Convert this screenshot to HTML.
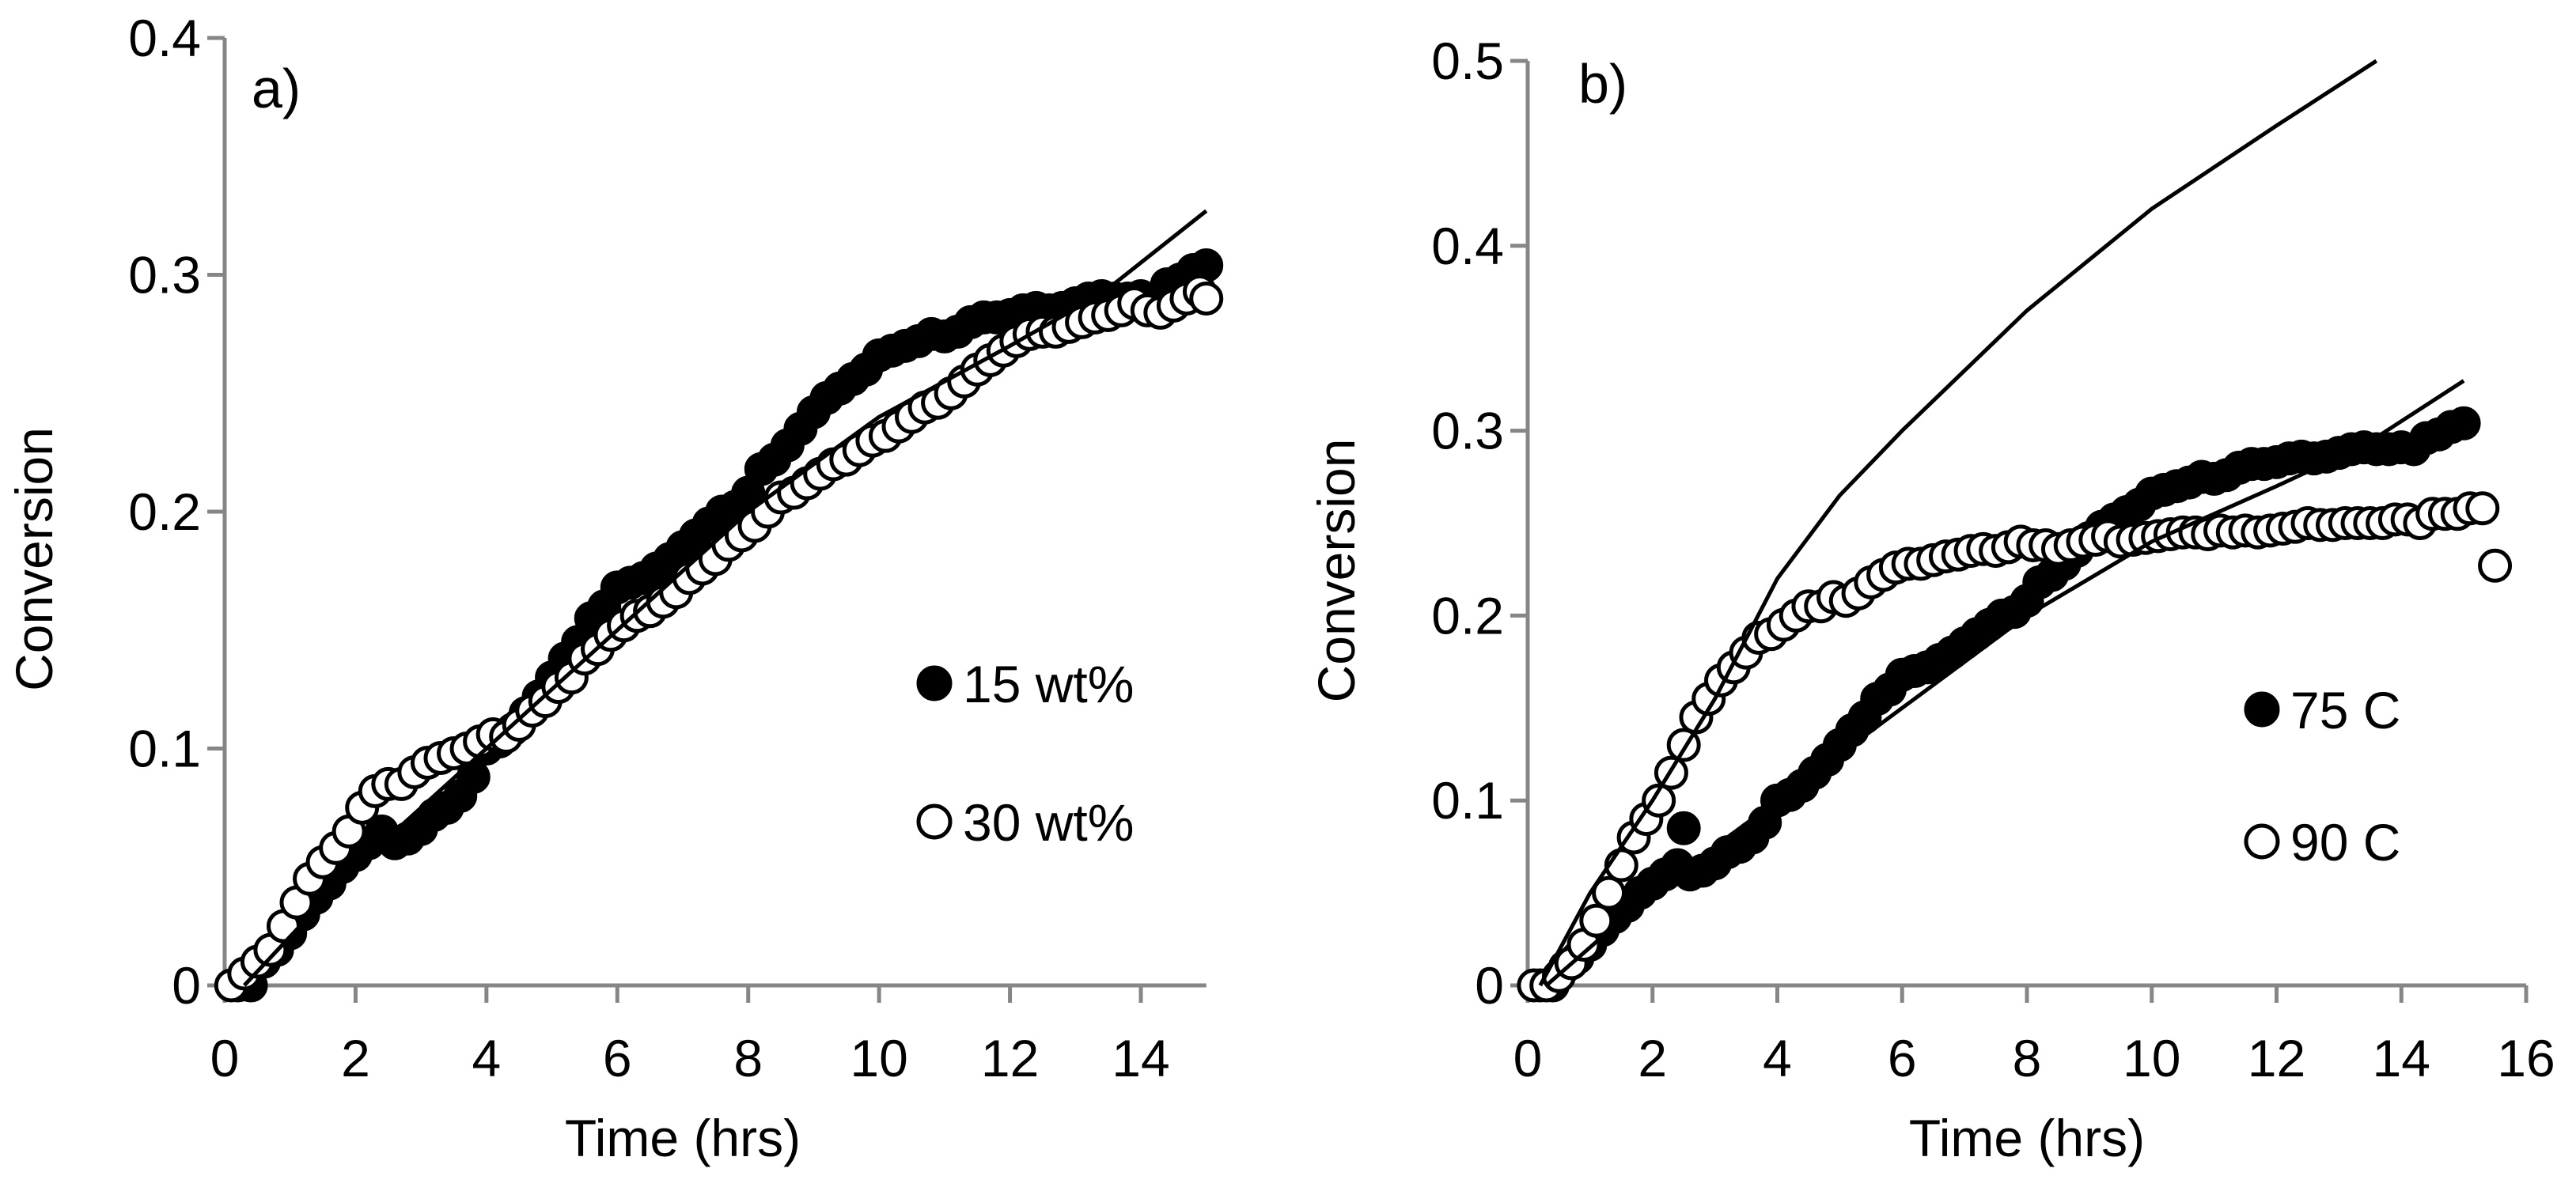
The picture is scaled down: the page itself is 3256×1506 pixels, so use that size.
<!DOCTYPE html>
<html><head><meta charset="utf-8"><style>
html,body{margin:0;padding:0;background:#fff;}
svg{display:block;font-family:"Liberation Sans",sans-serif;}
</style></head><body>
<svg id="chart" width="3256" height="1506" viewBox="0 0 3256 1506" xmlns="http://www.w3.org/2000/svg"></svg>
<script>
// ---- data ----
const t15 = [0.2,0.4,0.6,0.8,1.0,1.2,1.4,1.6,1.8,2.0,2.2,2.4,2.6,2.8,3.0,3.2,3.4,3.6,3.8,4.0,4.2,4.4,4.6,4.8,5.0,5.2,5.4,5.6,5.8,6.0,6.2,6.4,6.6,6.8,7.0,7.2,7.4,7.6,7.8,8.0,8.2,8.4,8.6,8.8,9.0,9.2,9.4,9.6,9.8,10.0,10.2,10.4,10.6,10.8,11.0,11.2,11.4,11.6,11.8,12.0,12.2,12.4,12.6,12.8,13.0,13.2,13.4,13.6,13.8,14.0,14.2,14.4,14.6,14.8,15.0];
const c15 = [0,0,0.01,0.015,0.022,0.03,0.037,0.043,0.05,0.055,0.06,0.065,0.06,0.062,0.066,0.072,0.075,0.08,0.088,0.1,0.103,0.108,0.115,0.122,0.13,0.138,0.145,0.155,0.16,0.168,0.17,0.172,0.176,0.18,0.185,0.19,0.195,0.2,0.202,0.208,0.218,0.222,0.228,0.235,0.242,0.248,0.252,0.256,0.26,0.266,0.268,0.27,0.272,0.275,0.274,0.276,0.28,0.282,0.282,0.283,0.285,0.286,0.285,0.286,0.288,0.29,0.291,0.29,0.29,0.291,0.29,0.296,0.298,0.302,0.304];
const t30 = [0.1,0.3,0.5,0.7,0.9,1.1,1.3,1.5,1.7,1.9,2.1,2.3,2.5,2.7,2.9,3.1,3.3,3.5,3.7,3.9,4.1,4.3,4.5,4.7,4.9,5.1,5.3,5.5,5.7,5.9,6.1,6.3,6.5,6.7,6.9,7.1,7.3,7.5,7.7,7.9,8.1,8.3,8.5,8.7,8.9,9.1,9.3,9.5,9.7,9.9,10.1,10.3,10.5,10.7,10.9,11.1,11.3,11.5,11.7,11.9,12.1,12.3,12.5,12.7,12.9,13.1,13.3,13.5,13.7,13.9,14.1,14.3,14.5,14.7,14.9,15.0];
const c30 = [0,0.005,0.01,0.015,0.025,0.035,0.045,0.052,0.058,0.065,0.075,0.082,0.085,0.085,0.09,0.094,0.096,0.098,0.1,0.103,0.106,0.105,0.11,0.116,0.12,0.126,0.13,0.138,0.142,0.148,0.152,0.156,0.158,0.162,0.166,0.172,0.176,0.18,0.186,0.19,0.194,0.2,0.206,0.208,0.212,0.216,0.22,0.222,0.226,0.23,0.232,0.236,0.24,0.244,0.246,0.25,0.255,0.26,0.264,0.268,0.272,0.275,0.276,0.276,0.278,0.28,0.282,0.283,0.285,0.288,0.285,0.284,0.287,0.29,0.293,0.29];
const fitAT = [0.3,2,4,6,8,10,12,13.4,15];
const fitAC = [0,0.05,0.1,0.15,0.2,0.24,0.27,0.292,0.327];
const t75out = [2.5];
const c75out = [0.085];
const t90 = [0.1,0.3,0.5,0.7,0.9,1.1,1.3,1.5,1.7,1.9,2.1,2.3,2.5,2.7,2.9,3.1,3.3,3.5,3.7,3.9,4.1,4.3,4.5,4.7,4.9,5.1,5.3,5.5,5.7,5.9,6.1,6.3,6.5,6.7,6.9,7.1,7.3,7.5,7.7,7.9,8.1,8.3,8.5,8.7,8.9,9.1,9.3,9.5,9.7,9.9,10.1,10.3,10.5,10.7,10.9,11.1,11.3,11.5,11.7,11.9,12.1,12.3,12.5,12.7,12.9,13.1,13.3,13.5,13.7,13.9,14.1,14.3,14.5,14.7,14.9,15.1,15.3,15.5];
const c90 = [0,0,0.005,0.012,0.022,0.035,0.05,0.065,0.08,0.09,0.1,0.115,0.13,0.145,0.155,0.165,0.172,0.18,0.188,0.19,0.195,0.2,0.205,0.205,0.21,0.208,0.212,0.218,0.222,0.226,0.228,0.228,0.23,0.232,0.233,0.235,0.236,0.235,0.237,0.24,0.238,0.238,0.236,0.238,0.24,0.241,0.243,0.24,0.241,0.242,0.243,0.244,0.245,0.245,0.244,0.246,0.245,0.246,0.245,0.246,0.247,0.248,0.25,0.249,0.249,0.25,0.25,0.25,0.25,0.252,0.252,0.25,0.255,0.255,0.255,0.258,0.258,0.227];
const fit90T = [0.2,1,2,3,4,5,6,8,10,12,13.6];
const fit90C = [0,0.05,0.1,0.155,0.22,0.265,0.3,0.365,0.42,0.465,0.5];
const ticksA_Y = [0,0.1,0.2,0.3,0.4];
const ticksA_X = [0,2,4,6,8,10,12,14];
const ticksB_Y = [0,0.1,0.2,0.3,0.4,0.5];
const ticksB_X = [0,2,4,6,8,10,12,14,16];

const NS="http://www.w3.org/2000/svg";
const svg=document.getElementById('chart');
function mk(tag,attrs,parent){const e=document.createElementNS(NS,tag);for(const k in attrs)e.setAttribute(k,attrs[k]);(parent||svg).appendChild(e);return e;}
const FS=66;
function panel(o){
  const g=mk('g',{});
  
  
  const sx=v=>o.x0+v*(o.xw/o.xmax);
  const sy=v=>o.y0-v*(o.yh/o.ymax);
  const ya=mk('line',{x1:o.x0,y1:sy(o.ymax),x2:o.x0,y2:o.y0,stroke:'#868686','stroke-width':5},g);
  
  
  const xa=mk('line',{x1:o.x0,y1:o.y0,x2:sx(o.xend),y2:o.y0,stroke:'#868686','stroke-width':5},g);
  
  
  o.ty.forEach(v=>{
    mk('line',{x1:o.x0-22,y1:sy(v),x2:o.x0,y2:sy(v),stroke:'#868686','stroke-width':5},g);
    const t=mk('text',{x:o.x0-30,y:sy(v)+23,'text-anchor':'end','font-size':FS,fill:'#000'},g);
    t.textContent=String(v);
    
    
  });
  o.tx.forEach(v=>{
    mk('line',{x1:sx(v),y1:o.y0,x2:sx(v),y2:o.y0+22,stroke:'#868686','stroke-width':5},g);
    const t=mk('text',{x:sx(v),y:o.y0+115,'text-anchor':'middle','font-size':FS,fill:'#000'},g);
    t.textContent=String(v);
    
    
  });
  const xt=mk('text',{x:o.x0+o.xw*0.5,y:1462,'text-anchor':'middle','font-size':FS,fill:'#000'},g);
  xt.textContent='Time (hrs)';
  
  
  const ytl=mk('text',{x:0,y:0,'text-anchor':'middle','font-size':FS,fill:'#000',transform:`translate(${o.ytx},${(o.y0+sy(o.ymax))/2+60}) rotate(-90)`},g);
  ytl.textContent='Conversion';
  
  
  const lab=mk('text',{x:o.labX,y:o.labY,'font-size':70,fill:'#000'},g);
  lab.textContent=o.label;
  
  
  o.series.forEach(s=>{
    const sg=mk('g',{},g);
    
    
    s.t.forEach((tv,i)=>{
      const c=mk('circle',{cx:sx(tv),cy:sy(s.c[i]),r:19,fill:s.fill,stroke:'#000','stroke-width':5},sg);
      
      
    });
  });
  o.lines.forEach(l=>{
    const p=mk('polyline',{points:l.t.map((tv,i)=>sx(tv)+','+sy(l.c[i])).join(' '),fill:'none',stroke:'#000','stroke-width':5,'stroke-linejoin':'round'},g);
    
    
  });
  o.legend.forEach(L=>{
    const c=mk('circle',{cx:L.x,cy:L.y,r:20,fill:L.fill,stroke:'#000','stroke-width':5},g);
    
    
    const t=mk('text',{x:L.x+36,y:L.y+24,'font-size':FS,fill:'#000'},g);
    t.textContent=L.text;
    
    
  });
}

panel({name:'panel-a',x0:284,y0:1246,xw:1158,xmax:14,xend:15,yh:1198,ymax:0.4,
  ty:ticksA_Y,tx:ticksA_X,ytx:66,label:'a)',labX:318,labY:136,
  series:[{name:'series-15wt',t:t15,c:c15,fill:'#000'},{name:'series-30wt',t:t30,c:c30,fill:'#fff'}],
  lines:[{name:'fit-line-a',t:fitAT,c:fitAC}],
  legend:[{x:1181,y:864,fill:'#000',text:'15 wt%'},{x:1181,y:1039,fill:'#fff',text:'30 wt%'}]});

panel({name:'panel-b',x0:1931,y0:1246,xw:1262,xmax:16,xend:16,yh:1169,ymax:0.5,
  ty:ticksB_Y,tx:ticksB_X,ytx:1712,label:'b)',labX:1995,labY:130,
  series:[{name:'series-75c',t:t15.concat(t75out),c:c15.concat(c75out),fill:'#000'},{name:'series-90c',t:t90,c:c90,fill:'#fff'}],
  lines:[{name:'fit-line-75c',t:fitAT,c:fitAC},{name:'fit-line-90c',t:fit90T,c:fit90C}],
  legend:[{x:2859,y:897,fill:'#000',text:'75 C'},{x:2859,y:1064,fill:'#fff',text:'90 C'}]});
</script>
</body></html>
